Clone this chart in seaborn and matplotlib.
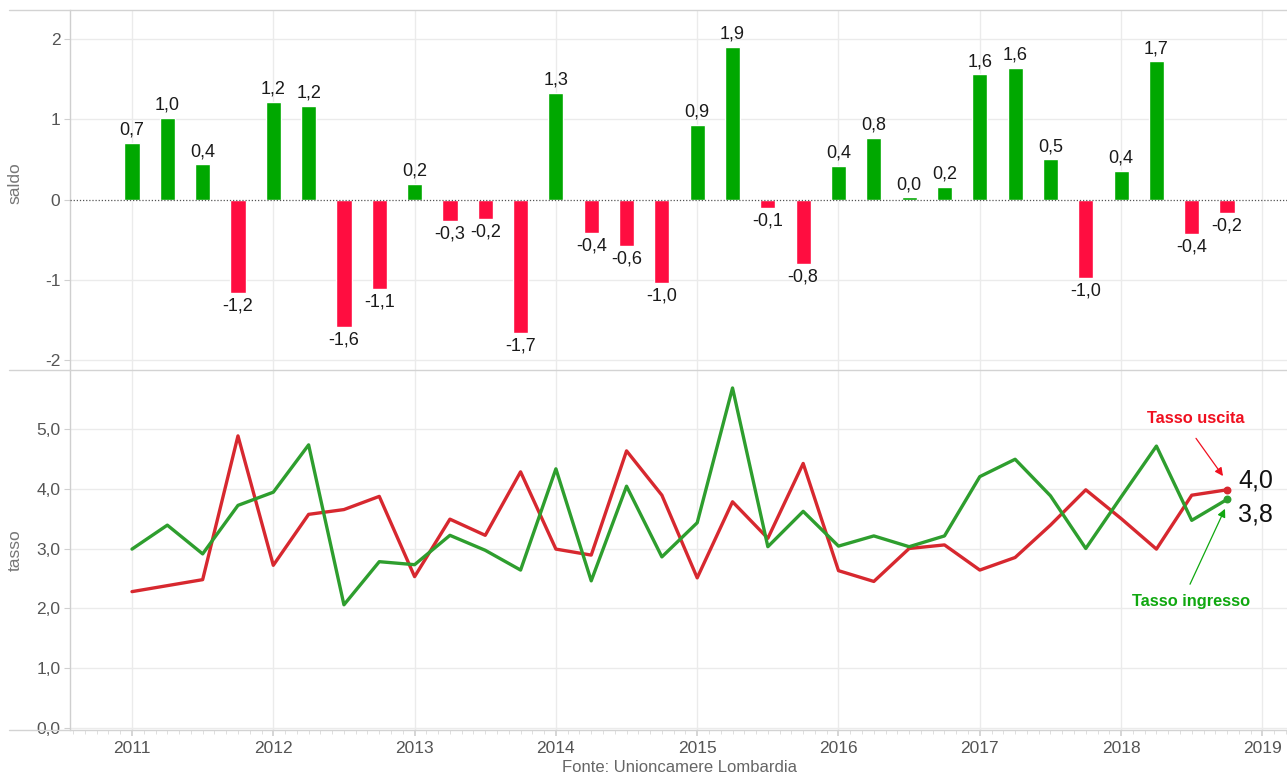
import numpy as np
import pandas as pd
import matplotlib
matplotlib.use("Agg")
import matplotlib.pyplot as plt
from matplotlib.lines import Line2D
import seaborn as sns

# ---- data ----
years = [2011, 2012, 2013, 2014, 2015, 2016, 2017, 2018]
quarters = [0.0, 0.25, 0.5, 0.75]
saldo = [0.71, 1.02, 0.44, -1.16,
         1.22, 1.17, -1.59, -1.11,
         0.20, -0.27, -0.24, -1.66,
         1.33, -0.42, -0.58, -1.04,
         0.93, 1.90, -0.11, -0.80,
         0.42, 0.77, 0.03, 0.16,
         1.56, 1.64, 0.50, -0.98,
         0.36, 1.72, -0.43, -0.17]
tasso_ingresso = [2.99, 3.39, 2.91, 3.72,
                  3.94, 4.73, 2.06, 2.78,
                  2.73, 3.22, 2.97, 2.64,
                  4.33, 2.46, 4.04, 2.86,
                  3.43, 5.68, 3.03, 3.62,
                  3.04, 3.21, 3.03, 3.21,
                  4.20, 4.49, 3.88, 3.00,
                  3.86, 4.71, 3.47, 3.82]
tasso_uscita = [2.28, 2.38, 2.48, 4.88,
                2.72, 3.57, 3.65, 3.87,
                2.53, 3.49, 3.22, 4.28,
                2.99, 2.89, 4.63, 3.89,
                2.51, 3.78, 3.17, 4.42,
                2.63, 2.45, 3.00, 3.06,
                2.64, 2.85, 3.39, 3.98,
                3.50, 2.99, 3.89, 3.98]
year_ticks = [2011, 2012, 2013, 2014, 2015, 2016, 2017, 2018, 2019]
saldo_ticks = [-2, -1, 0, 1, 2]
tasso_ticks = [0, 1, 2, 3, 4, 5]

t = [y + q for y in years for q in quarters]
df = pd.DataFrame({"t": t, "saldo": saldo,
                   "ingresso": tasso_ingresso, "uscita": tasso_uscita})
df["segno"] = np.where(df["saldo"] >= 0, "pos", "neg")

def fmt(v):
    return f"{v:.1f}".replace(".", ",").replace("-0,0", "0,0")

# ---- style ----
sns.set_theme(style="white")
plt.rcParams["font.family"] = ["Liberation Sans", "DejaVu Sans"]

W, H = 1287, 776
fig = plt.figure(figsize=(W / 100, H / 100), dpi=100)
left = 70
ax1 = fig.add_axes([left / W, (H - 370) / H, (W - left) / W, 360 / H])
ax2 = fig.add_axes([left / W, (H - 730) / H, (W - left) / W, 360 / H])

GREEN_BAR = "#00A800"
RED_BAR = "#FF0D40"
RED_LINE = "#D7282F"
GREEN_LINE = "#2E9E2E"
GRID = "#ebebeb"
TICKC = "#555555"

xlim = (2011 - 62 / 141.3, 2011 + (W - 132) / 141.3)

# ---- top: saldo bars ----
sns.barplot(data=df, x="t", y="saldo", hue="segno",
            palette={"pos": GREEN_BAR, "neg": RED_BAR},
            native_scale=True, dodge=False, width=0.43,
            errorbar=None, legend=False, ax=ax1, saturation=1)

for xv, v in zip(df["t"], df["saldo"]):
    if v >= 0:
        ax1.annotate(fmt(v), (xv, v), xytext=(0, 3), textcoords="offset points",
                     ha="center", va="bottom", fontsize=13, color="#1a1a1a")
    else:
        ax1.annotate(fmt(v), (xv, v), xytext=(0, -3), textcoords="offset points",
                     ha="center", va="top", fontsize=13, color="#1a1a1a")

ax1.set_yticks(saldo_ticks)
ax1.set_yticklabels([str(v) for v in saldo_ticks])
ax1.set_xticks(year_ticks)
ax1.set_xticklabels([])
ax1.set_xlabel("")
ax1.set_ylabel("saldo", color="#777777", fontsize=12.5)
ax1.yaxis.set_label_coords(-0.039, 0.52)
for yv in [-2, -1, 1, 2]:
    ax1.axhline(yv, color=GRID, lw=1, zorder=0)
for xv in year_ticks:
    ax1.axvline(xv, color=GRID, lw=1, zorder=0)
ax1.axhline(0, color="#555555", lw=0.9, ls=(0, (1, 1.5)), zorder=3)
ax1.set_xlim(*xlim)
ax1.set_ylim(-2.12, 2.36)

# ---- bottom: tasso lines ----
sns.lineplot(data=df, x="t", y="uscita", color=RED_LINE, lw=2.4, ax=ax2, zorder=4)
sns.lineplot(data=df, x="t", y="ingresso", color=GREEN_LINE, lw=2.4, ax=ax2, zorder=5)
last = df.iloc[-1]
ax2.scatter([last["t"]], [last["uscita"]], s=22, color=RED_LINE, zorder=6)
ax2.scatter([last["t"]], [last["ingresso"]], s=22, color=GREEN_LINE, zorder=6)
ax2.annotate(fmt(last["uscita"]), (last["t"], last["uscita"]), xytext=(8, 6.5),
             textcoords="offset points", ha="left", va="center",
             fontsize=18, color="#111111")
ax2.annotate(fmt(last["ingresso"]), (last["t"], last["ingresso"]), xytext=(8, -11),
             textcoords="offset points", ha="left", va="center",
             fontsize=18, color="#111111")

def px2data(px, py):
    return 2011 + (px - 132) / 141.3, 3 + (550 - py) / 60.35

ax2.text(*px2data(1196, 419), "Tasso uscita", ha="center", va="center",
         fontsize=11.8, fontweight="bold", color="#F01020")
ax2.annotate("", xy=px2data(1223, 477), xytext=px2data(1196, 439),
             arrowprops=dict(arrowstyle="-|>", color="#F01020", lw=0.9,
                             shrinkA=0, shrinkB=0, mutation_scale=12))
ax2.text(*px2data(1191, 603), "Tasso ingresso", ha="center", va="center",
         fontsize=11.8, fontweight="bold", color="#10A810")
ax2.annotate("", xy=px2data(1225, 510), xytext=px2data(1190, 586),
             arrowprops=dict(arrowstyle="-|>", color="#10A810", lw=0.9,
                             shrinkA=0, shrinkB=0, mutation_scale=12))

ax2.set_yticks(tasso_ticks)
ax2.set_yticklabels([f"{v:.1f}".replace(".", ",") for v in tasso_ticks])
ax2.set_xticks(year_ticks)
ax2.set_xticklabels([str(y) for y in year_ticks])
ax2.set_xticks(np.arange(2010 + 7 / 12, 2019.2, 1 / 12), minor=True)
ax2.set_xlabel("")
ax2.set_ylabel("tasso", color="#777777", fontsize=12.5)
ax2.yaxis.set_label_coords(-0.039, 0.5)
for yv in tasso_ticks:
    ax2.axhline(yv, color=GRID, lw=1, zorder=0)
for xv in year_ticks:
    ax2.axvline(xv, color=GRID, lw=1, zorder=0)
ax2.set_xlim(*xlim)
ax2.set_ylim(-0.03, 5.98)

for ax in (ax1, ax2):
    for s in ("top", "right", "bottom"):
        ax.spines[s].set_visible(False)
    ax.spines["left"].set_color("#cfcfcf")
    ax.spines["left"].set_linewidth(1)
    ax.tick_params(axis="y", which="major", left=True, length=4, width=0.8,
                   color="#d0d0d0", labelsize=12.5, labelcolor=TICKC, pad=3)
    ax.set_facecolor("white")
ax1.tick_params(axis="x", which="both", bottom=False, length=0)
ax2.tick_params(axis="x", which="major", bottom=True, length=4, color="#d0d0d0",
                labelsize=12.5, labelcolor=TICKC, pad=4)
ax2.tick_params(axis="x", which="minor", bottom=True, length=3, width=0.6,
                color="#d9d9d9")

# panel separator lines
for py in (10, 370, 730):
    fig.add_artist(Line2D([9 / W, 1], [(H - py) / H, (H - py) / H],
                          color="#d3d3d3", lw=1, transform=fig.transFigure))

fig.text(680 / W, (H - 767) / H, "Fonte: Unioncamere Lombardia",
         ha="center", va="center", fontsize=12, color="#666666")

fig.savefig("out.png", dpi=100, facecolor="white")
